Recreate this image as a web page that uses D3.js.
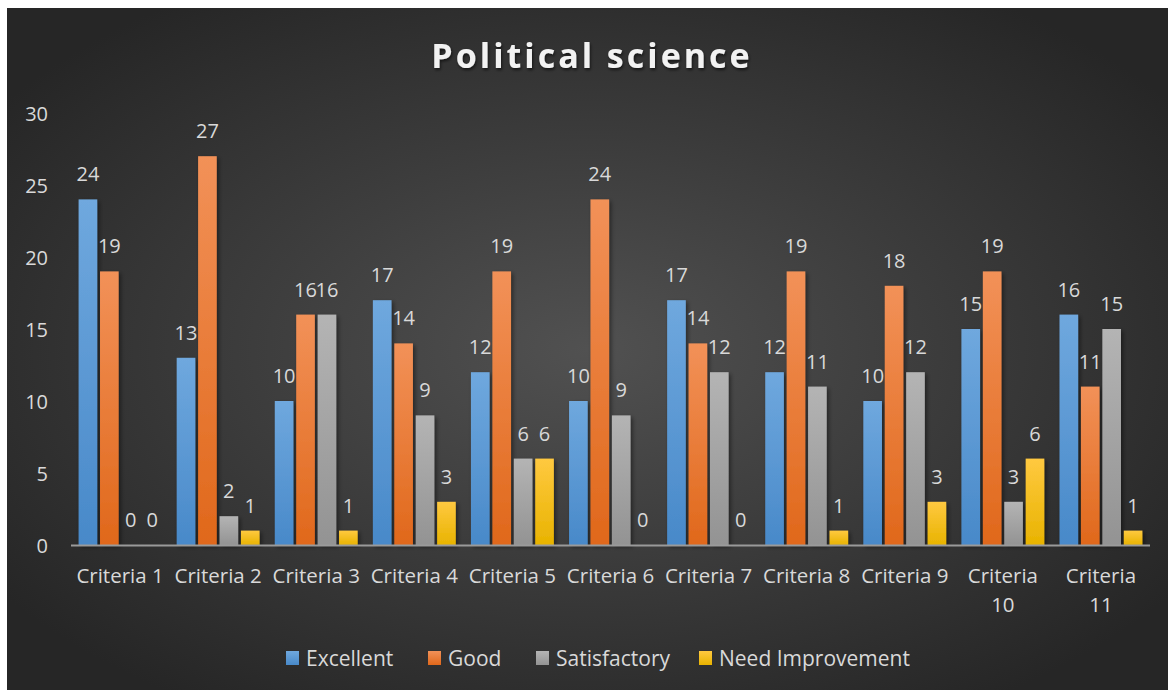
<!DOCTYPE html>
<html>
  <head>
    <style>
    body {
      margin: 0;
      background: #fff;
    }
    svg text {
      font-family: "Open Sans", "DejaVu Sans", sans-serif;
    }
    </style>
  </head>
  <body>
    <script src="https://d3js.org/d3.v7.min.js"></script>
    <script>

// data
var categories = ["Criteria 1", "Criteria 2", "Criteria 3", "Criteria 4", "Criteria 5", "Criteria 6",
                  "Criteria 7", "Criteria 8", "Criteria 9", "Criteria 10", "Criteria 11"];
var seriesNames = ["Excellent", "Good", "Satisfactory", "Need Improvement"];
var excellent = [24, 13, 10, 17, 12, 10, 17, 12, 10, 15, 16];
var good = [19, 27, 16, 14, 19, 24, 14, 19, 18, 19, 11];
var satisfactory = [0, 2, 16, 9, 6, 9, 12, 11, 12, 3, 15];
var needImprovement = [0, 1, 1, 3, 6, 0, 0, 1, 3, 6, 1];
var yTicks = [0, 5, 10, 15, 20, 25, 30];

var values = [excellent, good, satisfactory, needImprovement];
// top / bottom colour of each bar gradient
var colors = [["#6fa8de", "#4889c9"], ["#f29158", "#e0681b"], ["#b4b4b4", "#939393"], ["#ffc940", "#e8b300"]];

var width = 1168, height = 690;

var svg = d3.select("body").append("svg")
    .attr("width", width)
    .attr("height", height);

var defs = svg.append("defs");

var bg = defs.append("radialGradient").attr("id", "bg")
    .attr("cx", "50%").attr("cy", "50%").attr("r", "62%");
bg.append("stop").attr("offset", "0%").attr("stop-color", "#515151");
bg.append("stop").attr("offset", "100%").attr("stop-color", "#262626");

colors.forEach(function(c, i){
  var lg = defs.append("linearGradient").attr("id", "bar" + i)
      .attr("x1", 0).attr("y1", 0).attr("x2", 0).attr("y2", 1);
  lg.append("stop").attr("offset", "0%").attr("stop-color", c[0]);
  lg.append("stop").attr("offset", "100%").attr("stop-color", c[1]);
});

var sh = defs.append("filter").attr("id", "shadow")
    .attr("x", "-30%").attr("y", "-10%").attr("width", "180%").attr("height", "130%");
sh.append("feDropShadow").attr("dx", 2).attr("dy", 2).attr("stdDeviation", 2)
    .attr("flood-color", "#000").attr("flood-opacity", 0.45);

var tsh = defs.append("filter").attr("id", "tshadow");
tsh.append("feDropShadow").attr("dx", 1).attr("dy", 2).attr("stdDeviation", 1.5)
    .attr("flood-color", "#000").attr("flood-opacity", 0.6);

svg.append("rect")
    .attr("x", 7).attr("y", 8)
    .attr("width", width - 7).attr("height", height - 8)
    .style("fill", "url(#bg)");

// title
svg.append("text")
    .attr("x", 592).attr("y", 68)
    .attr("text-anchor", "middle")
    .style("font-size", "34px")
    .style("font-weight", "bold")
    .style("letter-spacing", "3px")
    .style("fill", "#f2f2f2")
    .attr("filter", "url(#tshadow)")
    .text("Political science");

var x0 = d3.scaleBand().domain(categories).range([71, 1150]).paddingInner(0.155).paddingOuter(0.0775);
var x1 = d3.scaleBand().domain(seriesNames).range([0, x0.bandwidth()]).paddingInner(0.13);
var y = d3.scaleLinear().domain([0, 30]).range([545, 113]);

// y axis labels
svg.selectAll(".ytick")
    .data(yTicks)
  .enter().append("text")
    .attr("class", "ytick")
    .attr("x", 48)
    .attr("y", function(d){ return y(d) + 8; })
    .attr("text-anchor", "end")
    .style("font-size", "20px")
    .style("fill", "#d9d9d9")
    .text(function(d){ return d; });

var groups = svg.selectAll(".grp")
    .data(categories)
  .enter().append("g")
    .attr("class", "grp")
    .attr("transform", function(d){ return "translate(" + x0(d) + ",0)"; });

seriesNames.forEach(function(s, si){
  groups.append("rect")
      .attr("x", x1(s))
      .attr("y", function(d, i){ return y(values[si][i]); })
      .attr("width", x1.bandwidth())
      .attr("height", function(d, i){ return y(0) - y(values[si][i]); })
      .style("fill", "url(#bar" + si + ")")
      .attr("filter", "url(#shadow)");

  groups.append("text")
      .attr("x", x1(s) + x1.bandwidth() / 2)
      .attr("y", function(d, i){ return y(values[si][i]) - 18; })
      .attr("text-anchor", "middle")
      .style("font-size", "20px")
      .style("fill", "#d9d9d9")
      .text(function(d, i){ return values[si][i]; });
});

// baseline
svg.append("line")
    .attr("x1", 71).attr("x2", 1150)
    .attr("y1", y(0) + 0.5).attr("y2", y(0) + 0.5)
    .style("stroke", "#9a9a9a")
    .style("stroke-width", 2);

// category labels, wrapped when they don't fit
svg.selectAll(".xlab")
    .data(categories)
  .enter().append("text")
    .attr("class", "xlab")
    .attr("text-anchor", "middle")
    .style("font-size", "20.5px")
    .style("fill", "#d9d9d9")
    .each(function(d){
      var cx = x0(d) + x0.bandwidth() / 2;
      var lines = d.length > 10 ? d.split(" ") : [d];
      d3.select(this).selectAll("tspan")
          .data(lines)
        .enter().append("tspan")
          .attr("x", cx)
          .attr("y", function(l, k){ return 583 + k * 29; })
          .text(function(l){ return l; });
    });

// legend
var legendX = [286, 428, 536, 699];
var leg = svg.selectAll(".leg")
    .data(seriesNames)
  .enter().append("g")
    .attr("class", "leg")
    .attr("transform", function(d, i){ return "translate(" + legendX[i] + ",651)"; });

leg.append("rect")
    .attr("width", 13).attr("height", 14)
    .style("fill", function(d, i){ return "url(#bar" + i + ")"; });

leg.append("text")
    .attr("x", 20).attr("y", 15)
    .style("font-size", "21px")
    .style("fill", "#d9d9d9")
    .text(function(d){ return d; });

    </script>
  </body>
</html>
